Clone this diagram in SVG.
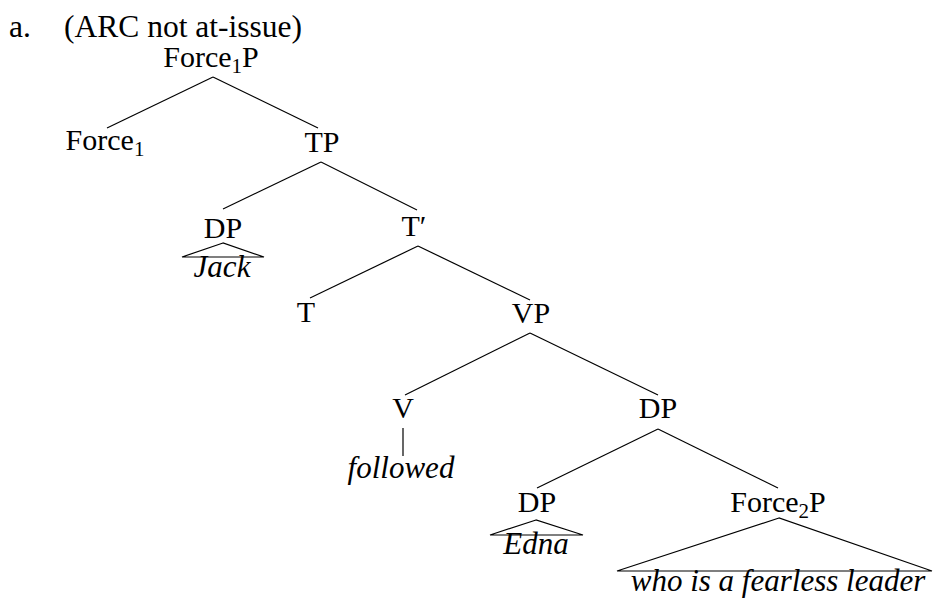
<svg xmlns="http://www.w3.org/2000/svg" width="933" height="598" viewBox="0 0 933 598">
<style>
text{font-family:"Liberation Serif","Times New Roman",serif;font-size:30px;fill:#000}
.c{text-anchor:middle}
.h{font-size:31.5px}
.i{font-style:italic;font-size:31px}
.sub{font-size:21px}
line,polyline{stroke:#000;stroke-width:1.2;fill:none}
</style>
<rect width="933" height="598" fill="#fff"/>
<text class="h" x="9" y="37">a.</text>
<text class="h" x="64" y="37">(ARC not at-issue)</text>
<g id="force1p"><text class="c" x="211" y="67">Force<tspan class="sub" dy="6">1</tspan><tspan dy="-6">P</tspan></text></g>
<g id="force1"><text class="c" x="105" y="150">Force<tspan class="sub" dy="6">1</tspan></text></g>
<g id="tp"><text class="c" x="322" y="152">TP</text></g>
<g id="dp1"><text class="c" x="223" y="238">DP</text>
<polygon points="223,243 182,257 264,257" fill="none" stroke="#000" stroke-width="1.2"/>
<text class="c i" x="222" y="277">Jack</text></g>
<g id="tbar"><text class="c" x="414" y="236">T′</text></g>
<g id="t"><text class="c" x="306" y="322">T</text></g>
<g id="vp"><text class="c" x="531" y="323">VP</text></g>
<g id="v"><text class="c" x="403" y="418">V</text>
<text class="c i" x="401" y="478">followed</text></g>
<g id="dp2"><text class="c" x="658" y="418">DP</text></g>
<g id="dp3"><text class="c" x="537" y="512">DP</text>
<polygon points="536,520 490,535 583,535" fill="none" stroke="#000" stroke-width="1.2"/>
<text class="c i" x="536" y="554">Edna</text></g>
<g id="force2p"><text class="c" x="778" y="512">Force<tspan class="sub" dy="6">2</tspan><tspan dy="-6">P</tspan></text>
<polygon points="779,518 617,571 932,571" fill="none" stroke="#000" stroke-width="1.2"/>
<text class="c i" x="778" y="591">who is a fearless leader</text></g>
<g id="connectors">
<line x1="213" y1="77" x2="107" y2="128"/>
<line x1="213" y1="77" x2="318" y2="128"/>
<line x1="321" y1="162" x2="223" y2="209"/>
<line x1="321" y1="162" x2="417" y2="210"/>
<line x1="418" y1="246" x2="310" y2="298"/>
<line x1="418" y1="246" x2="530" y2="300"/>
<line x1="530" y1="333" x2="405" y2="395"/>
<line x1="530" y1="333" x2="658" y2="395"/>
<line x1="403" y1="428" x2="403" y2="456"/>
<line x1="658" y1="429" x2="537" y2="488"/>
<line x1="658" y1="429" x2="778" y2="488"/>
</g>
</svg>
